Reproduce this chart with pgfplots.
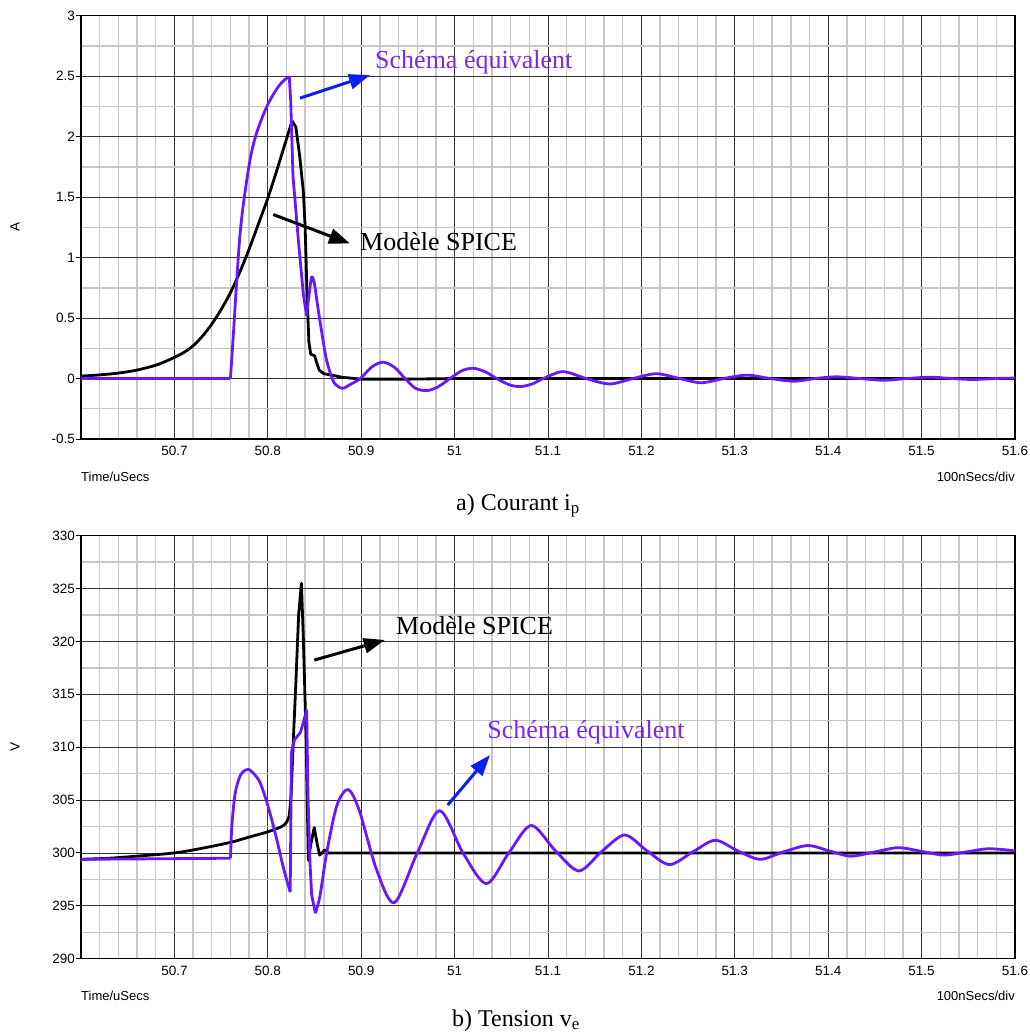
\documentclass[border=0pt]{standalone}
\usepackage{pgfplots}
\pgfplotsset{compat=1.18}
\usepackage{fontspec}
\setmainfont{Liberation Serif}
\newfontfamily\arial{Liberation Sans}
\usetikzlibrary{arrows.meta}
\definecolor{eqv}{RGB}{104,24,255}
\definecolor{eqvtxt}{RGB}{120,40,245}
\definecolor{arrblue}{RGB}{10,30,240}
\pgfplotsset{
  myaxis/.style={
    scale only axis, width=934pt,
    xmin=50.6, xmax=51.6, enlargelimits=false,
    xtick={50.6,50.7,50.8,50.9,51,51.1,51.2,51.3,51.4,51.5,51.6},
    xticklabels={,50.7,50.8,50.9,51,51.1,51.2,51.3,51.4,51.5,51.6},
    minor x tick num=4, minor y tick num=1,
    grid=both,
    major grid style={black!80, line width=0.9pt},
    minor grid style={black!22, line width=1.4pt},
    axis line style={black, line width=1.2pt},
    tick label style={font=\arial\fontsize{13.5}{15}\selectfont},
    /pgf/number format/assume math mode=true,
    xtick style={draw=none}, minor tick style={draw=none},
    ytick style={black, line width=1pt},
    tick align=outside, major tick length=5pt,
    ytick pos=left, xtick pos=bottom,
    yticklabel style={inner sep=1pt},
    xticklabel style={inner sep=2pt},
    clip=false,
  },
  blk/.style={black, line width=2.8pt, line join=round},
  pur/.style={eqv, line width=2.8pt, line join=round},
}
\begin{document}
\begin{tikzpicture}
\path[use as bounding box] (0pt,0pt) rectangle (1029pt,-1034pt);
% ---------------- top plot ----------------
\begin{axis}[myaxis, at={(81pt,-15.7pt)}, anchor=north west, height=423.3pt,
  ymin=-0.5, ymax=3,
  ytick={-0.5,0,0.5,1,1.5,2,2.5,3},
  yticklabels={-0.5,0,0.5,1,1.5,2,2.5,3}]
\addplot[blk, smooth] coordinates {
(50.60,0.02) (50.62,0.03) (50.64,0.045) (50.66,0.07) (50.68,0.11)
(50.69,0.14) (50.70,0.175) (50.71,0.215) (50.72,0.27) (50.73,0.35) (50.74,0.45)
(50.75,0.57) (50.76,0.71) (50.77,0.88) (50.78,1.07) (50.79,1.28)
(50.80,1.49) (50.81,1.73) (50.82,1.98) (50.826,2.13)};
\addplot[blk] coordinates {
(50.826,2.13) (50.830,2.08)
(50.834,1.85) (50.838,1.55) (50.840,1.25) (50.842,0.70) (50.844,0.30)
(50.846,0.20) (50.848,0.195) (50.850,0.19) (50.852,0.14) (50.855,0.07)
(50.860,0.04) (50.870,0.025) (50.880,0.01) (50.90,-0.005) (50.95,-0.005)
(51.00,0) (51.6,0)};
\addplot[pur] coordinates {(50.60,0) (50.760,0)};
\addplot[pur, smooth] coordinates {
(50.760,0) (50.763,0.35) (50.767,0.84) (50.770,1.17) (50.774,1.45)
(50.781,1.81) (50.788,2.03) (50.799,2.25) (50.810,2.40) (50.818,2.47)
(50.823,2.495)};
\addplot[pur] coordinates {
(50.823,2.495) (50.8245,2.3) (50.827,1.67) (50.833,1.12) (50.838,0.70)
(50.8416,0.52)};
\addplot[pur, smooth] coordinates {
(50.8416,0.52) (50.844,0.68) (50.847,0.84) (50.850,0.78) (50.853,0.62)
(50.858,0.37) (50.863,0.15) (50.870,-0.02) (50.876,-0.07) (50.881,-0.08)
(50.888,-0.05) (50.899,0) (50.912,0.10) (50.924,0.135)
(50.936,0.09) (50.947,0) (50.958,-0.08) (50.970,-0.10) (50.982,-0.07)
(50.995,0) (51.008,0.065) (51.020,0.085) (51.033,0.055) (51.045,0)
(51.058,-0.05) (51.070,-0.067) (51.083,-0.045) (51.095,0) (51.116,0.057)
(51.141,0) (51.166,-0.045) (51.191,0) (51.216,0.04) (51.241,0)
(51.264,-0.035) (51.288,0) (51.313,0.028) (51.338,0) (51.363,-0.022)
(51.386,0) (51.409,0.014) (51.434,0) (51.459,-0.014) (51.484,0)
(51.509,0.011) (51.532,0) (51.555,-0.008) (51.578,0) (51.6,0.004)};
\draw[arrblue, line width=3pt, -{Triangle[length=21pt,width=15pt]}]
  (axis cs:50.8345,2.3185) -- (axis cs:50.9094,2.509);
\node[anchor=west, text=eqvtxt, inner sep=0pt, font=\fontsize{26}{30}\selectfont]
  at (axis cs:50.9148,2.617) {Schéma équivalent};
\draw[black, line width=3pt, -{Triangle[length=21pt,width=15pt]}]
  (axis cs:50.8059,1.356) -- (axis cs:50.888,1.116);
\node[anchor=west, inner sep=0pt, font=\fontsize{26}{30}\selectfont]
  at (axis cs:50.8987,1.135) {Modèle SPICE};
\end{axis}
\node[rotate=90, font=\arial\fontsize{13.5}{15}\selectfont] at (15pt,-227pt) {A};
\node[anchor=west, inner sep=0pt, font=\arial\fontsize{13}{15}\selectfont] at (81pt,-477pt) {Time/uSecs};
\node[anchor=east, inner sep=0pt, font=\arial\fontsize{13}{15}\selectfont] at (1015pt,-477pt) {100nSecs/div};
\node[anchor=base, inner sep=0pt, font=\fontsize{24}{28}\selectfont] at (518pt,-510pt) {a) Courant i\textsubscript{p}};
% ---------------- bottom plot ----------------
\begin{axis}[myaxis, at={(81pt,-535.7pt)}, anchor=north west, height=423pt,
  ymin=290, ymax=330,
  ytick={290,295,300,305,310,315,320,325,330},
  yticklabels={290,295,300,305,310,315,320,325,330}]
\addplot[blk, smooth] coordinates {
(50.60,299.4) (50.63,299.5) (50.66,299.7) (50.70,300.0) (50.727,300.4)
(50.76,301.0) (50.78,301.5) (50.80,302.0) (50.815,302.5) (50.820,302.9)
(50.823,303.5)};
\addplot[blk] coordinates {
(50.823,303.5) (50.825,305.5) (50.827,310.0) (50.830,316.0) (50.833,322.5)
(50.836,325.5) (50.838,320.5) (50.841,311) (50.8434,299.3) (50.846,300.8)
(50.8497,302.4) (50.853,300.8) (50.8555,299.8) (50.858,300.0) (50.861,300.3)
(50.865,300.0) (51.6,300.0)};
\addplot[pur] coordinates {(50.60,299.4) (50.760,299.5)};
\addplot[pur, smooth] coordinates {
(50.760,299.5) (50.7615,302.5) (50.765,305.6) (50.771,307.4)
(50.779,307.9) (50.786,307.4) (50.792,306.6) (50.800,304.5) (50.809,301.5)
(50.817,298.5) (50.824,296.3)};
\addplot[pur] coordinates {
(50.824,296.3) (50.8253,309.5) (50.8285,310.7) (50.835,311.4)
(50.8416,313.5) (50.843,305.5) (50.8452,299) (50.847,296) (50.851,294.3)};
\addplot[pur, smooth] coordinates {
(50.851,294.3) (50.856,296.0) (50.863,300.0) (50.874,304.5) (50.886,306.0)
(50.898,304.0) (50.9165,298.4) (50.9355,295.3) (50.960,300) (50.984,304.0)
(51.009,300) (51.034,297.1) (51.058,300) (51.082,302.6) (51.108,300.2)
(51.133,298.3) (51.157,300.1) (51.182,301.7) (51.206,300.2) (51.230,298.9)
(51.255,300.1) (51.279,301.2) (51.303,300.2) (51.327,299.4) (51.352,300.1)
(51.378,300.7) (51.401,300.2) (51.424,299.7) (51.45,300.1) (51.475,300.5)
(51.50,300.15) (51.524,299.8) (51.548,300.1) (51.572,300.4) (51.6,300.2)};
\draw[black, line width=3pt, -{Triangle[length=21pt,width=15pt]}]
  (axis cs:50.8498,318.24) -- (axis cs:50.9253,320.14);
\node[anchor=west, inner sep=0pt, font=\fontsize{26}{30}\selectfont]
  at (axis cs:50.9373,321.46) {Modèle SPICE};
\draw[arrblue, line width=3pt, -{Triangle[length=21pt,width=15pt]}]
  (axis cs:50.9926,304.53) -- (axis cs:51.0379,309.26);
\node[anchor=west, text=eqvtxt, inner sep=0pt, font=\fontsize{26}{30}\selectfont]
  at (axis cs:51.035,311.44) {Schéma équivalent};
\end{axis}
\node[rotate=90, font=\arial\fontsize{13.5}{15}\selectfont] at (15pt,-747pt) {V};
\node[anchor=west, inner sep=0pt, font=\arial\fontsize{13}{15}\selectfont] at (81pt,-996pt) {Time/uSecs};
\node[anchor=east, inner sep=0pt, font=\arial\fontsize{13}{15}\selectfont] at (1015pt,-996pt) {100nSecs/div};
\node[anchor=base, inner sep=0pt, font=\fontsize{24}{28}\selectfont] at (516pt,-1026pt) {b) Tension v\textsubscript{e}};
\end{tikzpicture}
\end{document}
